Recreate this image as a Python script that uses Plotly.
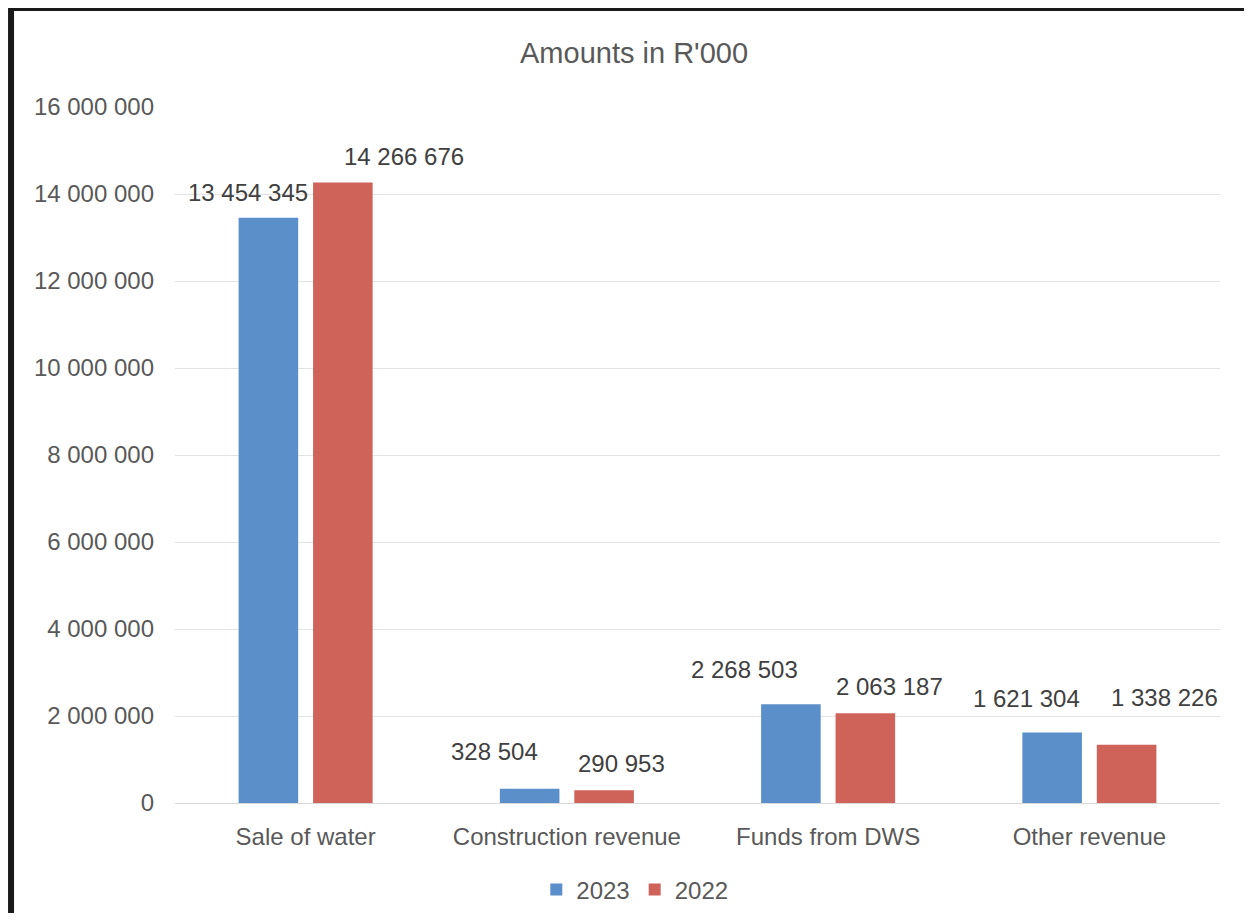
import plotly.graph_objects as go

categories = ["Sale of water", "Construction revenue", "Funds from DWS", "Other revenue"]
values_2023 = [13454345, 328504, 2268503, 1621304]
values_2022 = [14266676, 290953, 2063187, 1338226]
tick_values = [0, 2000000, 4000000, 6000000, 8000000, 10000000, 12000000, 14000000, 16000000]

# hand-placed label offsets (px) like in the source chart
shift_2023 = [(-58, 25), (-72, 37), (-84, 35), (-63, 34)]
shift_2022 = [(98, 26), (55, 27), (61, 27), (75, 47)]

FONT = "Liberation Sans, Arial, sans-serif"
BLUE = "#5b8fc9"
RED = "#cf635a"


def fmt(v):
    return f"{v:,}".replace(",", " ")


fig = go.Figure()
fig.add_trace(go.Bar(x=categories, y=values_2023, name="2023", marker=dict(color=BLUE, line=dict(width=0))))
fig.add_trace(go.Bar(x=categories, y=values_2022, name="2022", marker=dict(color=RED, line=dict(width=0))))

annotations = []
for vals, shifts in ((values_2023, shift_2023), (values_2022, shift_2022)):
    for cat, v, (dx, dy) in zip(categories, vals, shifts):
        annotations.append(dict(
            x=cat, y=v, xref="x", yref="y", text=fmt(v), showarrow=False,
            xshift=dx, yshift=dy, font=dict(family=FONT, size=24, color="#404040"),
        ))

# black frame on top and left edges
shapes = [
    dict(type="line", xref="paper", yref="paper", x0=-0.1569, x1=1.05, y0=1.1401, y1=1.1401,
         line=dict(color="#1a1a1a", width=3)),
    dict(type="line", xref="paper", yref="paper", x0=-0.1569, x1=-0.1569, y0=1.1422, y1=-0.2,
         line=dict(color="#1a1a1a", width=6)),
]

fig.update_layout(
    width=1236, height=905,
    margin=dict(l=167, r=24, t=99, b=110, autoexpand=False),
    paper_bgcolor="white", plot_bgcolor="white",
    separators=". ",
    font=dict(family=FONT, size=24, color="#595959"),
    title=dict(text="Amounts in R'000", x=0.5065, xanchor="center", y=0.9503, yanchor="middle",
               xref="container", yref="container", font=dict(size=29, color="#595959")),
    barmode="group", bargap=0.43, bargroupgap=0.2,
    legend=dict(orientation="h", x=0.44, xanchor="center", y=-0.125, yanchor="middle",
                font=dict(size=24, color="#595959"), itemwidth=30),
    annotations=annotations,
    shapes=shapes,
    showlegend=True,
)
fig.update_xaxes(showline=True, linecolor="#d9d9d9", linewidth=1, ticks="",
                 tickfont=dict(size=24, color="#595959"), ticklabelstandoff=12)
fig.update_yaxes(range=[0, 16000000], tickvals=tick_values, tickformat=",d",
                 showgrid=True, gridcolor="#e3e3e3", gridwidth=1, zeroline=False,
                 showline=False, ticks="", ticklabelstandoff=20,
                 tickfont=dict(size=24, color="#595959"))

fig.write_html("out.html")
